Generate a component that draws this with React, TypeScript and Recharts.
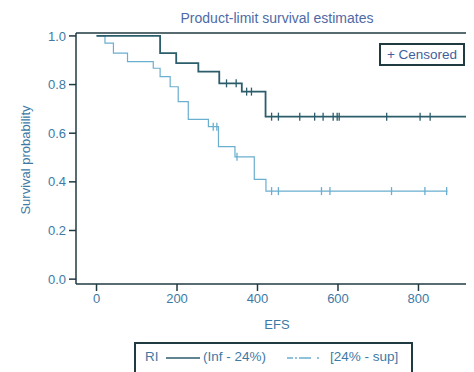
import { ComposedChart, Line, Scatter, XAxis, YAxis, ReferenceLine } from "recharts"

// group 1: RI (Inf - 24%)
const lowTimes = [0, 158, 198, 253, 305, 361, 420, 928]
const lowSurv = [1.0, 0.929, 0.888, 0.853, 0.805, 0.771, 0.668, 0.668]
const lowCensorT = [323, 347, 373, 385, 435, 452, 505, 542, 563, 588, 598, 603, 721, 804, 829, 928]
const lowCensorS = [0.805, 0.805, 0.771, 0.771, 0.668, 0.668, 0.668, 0.668, 0.668, 0.668, 0.668, 0.668, 0.668, 0.668, 0.668, 0.668]

// group 2: RI [24% - sup]
const highTimes = [0, 21, 42, 77, 141, 158, 183, 203, 228, 278, 303, 344, 392, 421, 872]
const highSurv = [1.0, 0.97, 0.929, 0.894, 0.867, 0.833, 0.791, 0.73, 0.657, 0.627, 0.545, 0.503, 0.41, 0.362, 0.362]
const highCensorT = [290, 299, 349, 435, 452, 559, 580, 733, 816, 870]
const highCensorS = [0.627, 0.627, 0.503, 0.362, 0.362, 0.362, 0.362, 0.362, 0.362, 0.362]

const xTicks = [0, 200, 400, 600, 800]
const yTicks = [0, 0.2, 0.4, 0.6, 0.8, 1.0]

const DARK = "#2b5d6b"
const LIGHT = "#6aaed0"
const AXIS = "#1f3a40"
const TXT = "#3d7aa6"
const FONT = "'Liberation Sans', Arial, sans-serif"

const toPts = (ts: number[], ss: number[]) => ts.map((t, i) => ({ t, s: ss[i] }))

const lowData = toPts(lowTimes, lowSurv)
const highData = toPts(highTimes, highSurv)
const lowCens = toPts(lowCensorT, lowCensorS)
const highCens = toPts(highCensorT, highCensorS)

const censorShape = (color: string) => (props: any) => {
  const { cx, cy } = props
  return <line x1={cx} x2={cx} y1={cy - 4} y2={cy + 4} stroke={color} strokeWidth={1.3} />
}

const abs = (left: number): React.CSSProperties => ({ position: "absolute", left, top: 5, whiteSpace: "nowrap" })

export default function App() {
  return (
    <div style={{ position: "relative", width: 474, height: 372, margin: "-8px 0 0 -8px", fontFamily: FONT, background: "#fff" }}>
      <ComposedChart width={474} height={372} margin={{ top: 33, right: 2, bottom: 48, left: 0 }}>
        <XAxis
          type="number"
          dataKey="t"
          domain={[-51, 933]}
          ticks={xTicks}
          allowDataOverflow
          stroke={AXIS}
          strokeWidth={1.5}
          tickSize={7}
          tickMargin={3}
          height={40}
          tick={{ fill: TXT, fontSize: 13, fontFamily: FONT }}
        />
        <YAxis
          type="number"
          domain={[-0.02, 1.012]}
          ticks={yTicks}
          allowDataOverflow
          width={76}
          stroke={AXIS}
          strokeWidth={1.5}
          tickSize={7}
          tickMargin={3}
          tickFormatter={(v: number) => v.toFixed(1)}
          tick={{ fill: TXT, fontSize: 13, fontFamily: FONT }}
        />
        <ReferenceLine y={1.012} stroke={AXIS} strokeWidth={1.5} />
        <Line data={highData} dataKey="s" type="stepAfter" stroke={LIGHT} strokeWidth={1.2} dot={false} isAnimationActive={false} />
        <Line data={lowData} dataKey="s" type="stepAfter" stroke={DARK} strokeWidth={1.8} dot={false} isAnimationActive={false} />
        <Scatter data={highCens} dataKey="s" shape={censorShape(LIGHT)} isAnimationActive={false} />
        <Scatter data={lowCens} dataKey="s" shape={censorShape(DARK)} isAnimationActive={false} />
      </ComposedChart>

      <div style={{ position: "absolute", left: 0, width: 554, top: 10, textAlign: "center", fontSize: 14, color: "#4e6aa6" }}>
        Product-limit survival estimates
      </div>

      <div style={{ position: "absolute", left: 379, top: 43, width: 82, height: 19, border: `2px solid ${AXIS}`, fontSize: 13.5, color: "#3f5f9c", lineHeight: "19px", textAlign: "center", whiteSpace: "nowrap" }}>
        + Censored
      </div>

      <div style={{ position: "absolute", left: 25, top: 160, transform: "translate(-50%, -50%) rotate(-90deg)", whiteSpace: "nowrap", fontSize: 13, color: TXT }}>
        Survival probability
      </div>

      <div style={{ position: "absolute", left: 0, width: 554, top: 317, textAlign: "center", fontSize: 13, color: TXT }}>
        EFS
      </div>

      <div style={{ position: "absolute", left: 134, top: 342, width: 275, height: 40, border: `2px solid ${AXIS}`, fontSize: 13.5, color: TXT }}>
        <span style={abs(9)}>RI</span>
        <svg style={{ position: "absolute", left: 30, top: 11 }} width={34} height={6}><line x1={0} x2={34} y1={3} y2={3} stroke={DARK} strokeWidth={1.5} /></svg>
        <span style={abs(67)}>(Inf - 24%)</span>
        <svg style={{ position: "absolute", left: 151, top: 11 }} width={34} height={6}><line x1={0} x2={34} y1={3} y2={3} stroke={LIGHT} strokeWidth={1.3} strokeDasharray="6 2 2 2 12" /></svg>
        <span style={abs(194)}>[24% - sup]</span>
      </div>
    </div>
  )
}
